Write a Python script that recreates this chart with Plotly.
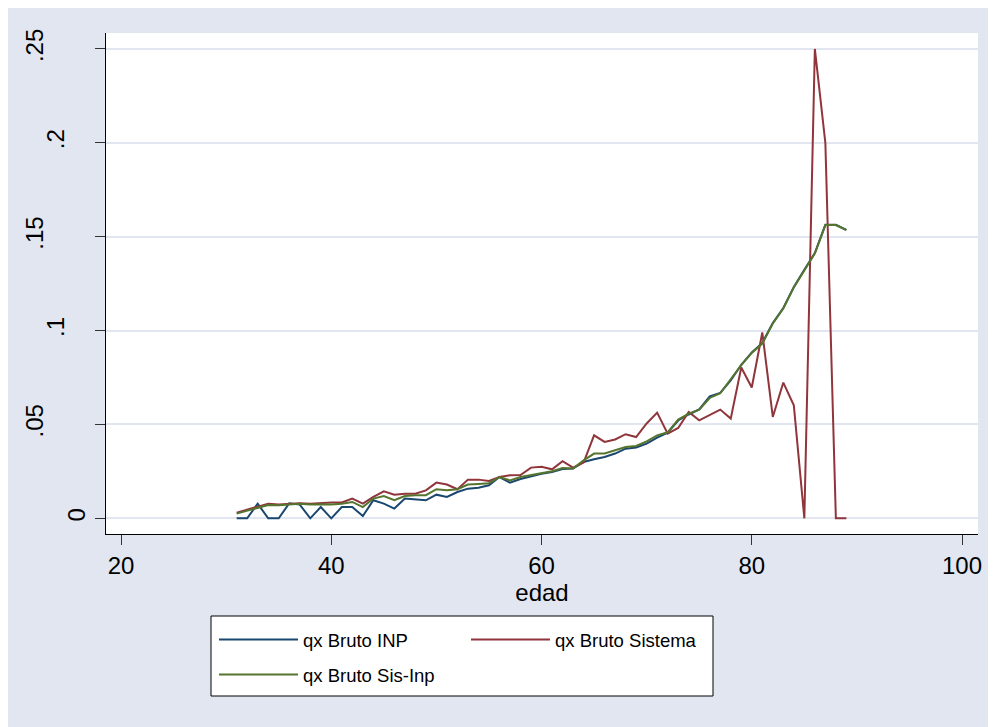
import plotly.graph_objects as go

# ---------------- data ----------------
edad = list(range(31, 90))

qx_inp = [0, 0, 0.0078, 0, 0, 0.008, 0.0073, 0, 0.006, 0,
          0.006, 0.006, 0.0012, 0.0096, 0.0078, 0.0052, 0.0105, 0.0101, 0.0096, 0.0126,
          0.0114, 0.014, 0.0158, 0.0163, 0.0176, 0.022, 0.019, 0.0209, 0.0224, 0.0237,
          0.0247, 0.0263, 0.0265, 0.030, 0.0315, 0.0327, 0.0345, 0.0371, 0.0377, 0.0398,
          0.0430, 0.0456, 0.0521, 0.0553, 0.0580, 0.0650, 0.0668, 0.0735, 0.0818, 0.0884,
          0.0934, 0.1040, 0.1120, 0.1232, 0.1324, 0.1413, 0.1563, 0.1563, 0.1536]

qx_sistema = [0.003, 0.0046, 0.006, 0.0078, 0.0073, 0.0078, 0.008, 0.0078, 0.0083, 0.0084,
              0.0084, 0.0105, 0.0078, 0.0114, 0.0144, 0.0126, 0.0131, 0.0131, 0.0149, 0.019,
              0.018, 0.0155, 0.0206, 0.0206, 0.0199, 0.022, 0.0229, 0.023, 0.027, 0.0274,
              0.0261, 0.0304, 0.027, 0.0297, 0.0442, 0.0407, 0.042, 0.0448, 0.0433, 0.0505,
              0.0563, 0.0451, 0.0481, 0.0566, 0.0522, 0.0549, 0.0579, 0.0531, 0.0803, 0.0697,
              0.099, 0.054, 0.0723, 0.0602, 0, 0.25, 0.2, 0, 0]

qx_sis_inp = [0.0025, 0.004, 0.0057, 0.0071, 0.007, 0.0075, 0.0078, 0.0073, 0.0075, 0.0073,
              0.0077, 0.0087, 0.006, 0.0105, 0.0119, 0.0096, 0.0119, 0.0123, 0.0123, 0.0155,
              0.0149, 0.0155, 0.018, 0.0183, 0.0187, 0.022, 0.0202, 0.022, 0.0231, 0.0242,
              0.0251, 0.0268, 0.0265, 0.0309, 0.0345, 0.0345, 0.0362, 0.038, 0.0385, 0.041,
              0.0442, 0.0458, 0.0526, 0.0558, 0.0579, 0.0641, 0.0666, 0.0740, 0.0816, 0.0881,
              0.0931, 0.1038, 0.1118, 0.1230, 0.1322, 0.1411, 0.1562, 0.1562, 0.1535]

names = ["qx Bruto INP", "qx Bruto Sistema", "qx Bruto Sis-Inp"]

x_tickvals = [20, 40, 60, 80, 100]
y_tickvals = [0, 0.05, 0.1, 0.15, 0.2, 0.25]
y_ticktext = ["0", ".05", ".1", ".15", ".2", ".25"]

# ---------------- figure ----------------
W, H = 996, 727
L, R, T, B = 98, 26, 25, 201
PW, PH = W - L - R, H - T - B

def px(xp):
    return (xp - L) / PW

def py(yp):
    return (H - B - yp) / PH

BG = "#E1E6F0"
FONT = "Liberation Sans"
YRANGE = [-0.00836, 0.2585]

fig = go.Figure()
fig.add_trace(go.Scatter(x=edad, y=qx_inp, mode="lines", name=names[0],
                         line=dict(color="#1A476F", width=2), legend="legend",
                         yaxis="y"))
fig.add_trace(go.Scatter(x=edad, y=qx_sistema, mode="lines", name=names[1],
                         line=dict(color="#90353B", width=2), legend="legend",
                         yaxis="y2"))
fig.add_trace(go.Scatter(x=edad, y=qx_sis_inp, mode="lines", name=names[2],
                         line=dict(color="#55752F", width=2), legend="legend2",
                         yaxis="y3"))

legend_common = dict(orientation="h", bgcolor="rgba(0,0,0,0)", borderwidth=0,
                     font=dict(family=FONT, size=18.5, color="black"),
                     itemwidth=79, entrywidth=158, entrywidthmode="pixels",
                     xanchor="left", yanchor="middle", traceorder="normal")

# Stata places the rotated y labels at a distance that depends on label length;
# three overlaid copies of the same y scale carry the three label groups.
def label_axis(keep, standoff, main=False):
    txt = [t if len(t) in keep else "" for t in y_ticktext]
    d = dict(range=YRANGE, tickvals=y_tickvals, ticktext=txt,
             ticks="outside", ticklen=10, tickwidth=1.3, tickcolor="#333333",
             tickangle=-90, ticklabelstandoff=standoff,
             tickfont=dict(family=FONT, size=24, color="black"),
             zeroline=False)
    if main:
        d.update(showline=True, linecolor="black", linewidth=1.3,
                 showgrid=True, gridcolor=BG, gridwidth=2)
    else:
        d.update(overlaying="y", matches="y", side="left", anchor="x",
                 showline=False, showgrid=False)
    return d

fig.update_layout(
    width=W, height=H,
    margin=dict(l=L, r=R, t=T, b=B, autoexpand=False),
    paper_bgcolor=BG,
    plot_bgcolor="white",
    font=dict(family=FONT, size=24, color="black"),
    showlegend=True,
    legend=dict(x=px(206), y=py(632), **legend_common),
    legend2=dict(x=px(206), y=py(667), **legend_common),
    xaxis=dict(range=[18.57, 101.52], tickvals=x_tickvals, ticks="outside",
               ticklen=10, tickwidth=1.3, tickcolor="#333333",
               showline=True, linecolor="black", linewidth=1.3,
               showgrid=False, zeroline=False,
               tickfont=dict(family=FONT, size=24, color="black"),
               title=dict(text="edad", font=dict(family=FONT, size=24), standoff=0)),
    yaxis=label_axis({3}, 42, main=True),
    yaxis2=label_axis({2}, 21),
    yaxis3=label_axis({1}, 0),
    shapes=[
        dict(type="rect", xref="paper", yref="paper", layer="below",
             x0=px(203), x1=px(705), y0=py(688), y1=py(608),
             fillcolor="white", line=dict(color="black", width=1)),
    ],
)

fig.write_html("out.html")
